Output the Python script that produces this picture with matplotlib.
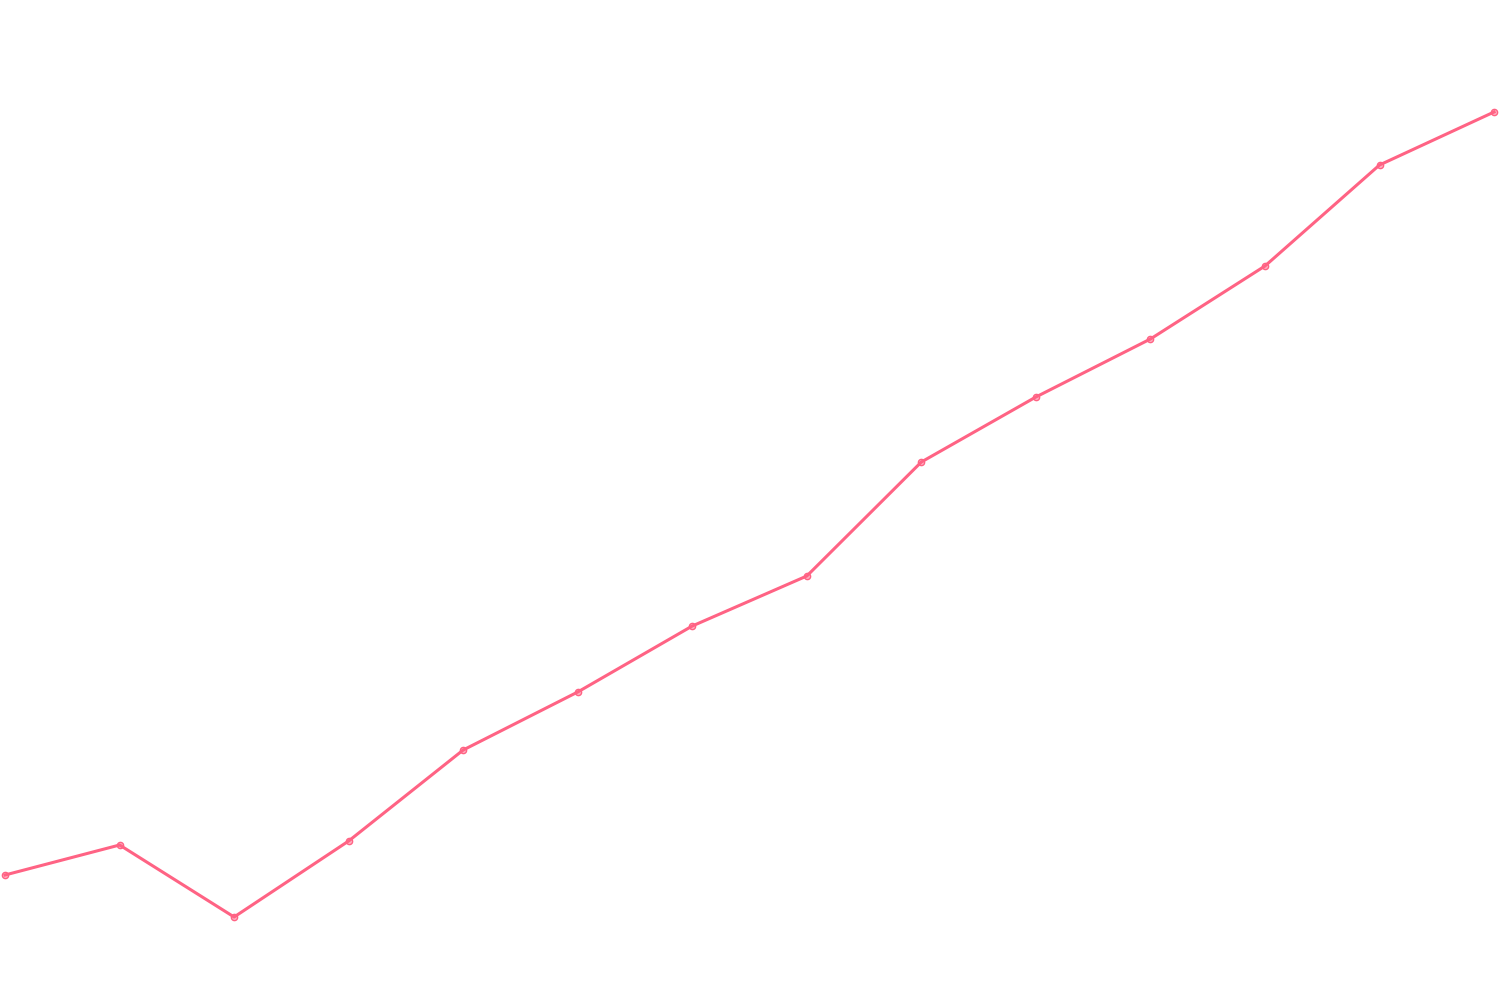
import matplotlib.pyplot as plt

# values (14 points, evenly spaced)
labels = list(range(14))
values = [12.5, 15.5, 8.3, 15.9, 25.0, 30.8, 37.4, 42.4, 53.8, 60.3, 66.1, 73.4, 83.5, 88.8]

line_color = "#FF6384"

fig = plt.figure(figsize=(15, 10), dpi=100)
ax = fig.add_axes([0, 0, 1, 1])

ax.plot(labels, values, color=line_color, linewidth=2.2, zorder=2)
ax.plot(labels, values, linestyle="none", marker="o", markersize=4.5,
        markerfacecolor=(1.0, 0.39, 0.52, 0.5), markeredgecolor=line_color,
        markeredgewidth=1.0, zorder=3)

ax.set_xlim(-0.044, 13.052)
ax.set_ylim(0, 100)
ax.axis("off")

fig.savefig("out.png", dpi=100, facecolor="white")
